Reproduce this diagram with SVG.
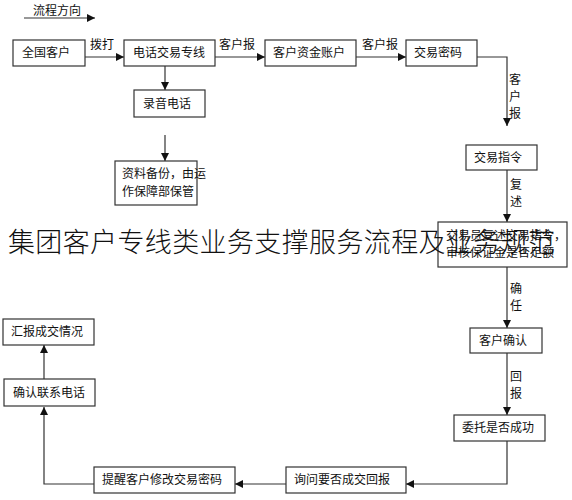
<svg xmlns="http://www.w3.org/2000/svg" width="572" height="500" viewBox="0 0 572 500">
<style>
.box{fill:#fff;stroke:#333;stroke-width:1.2}
.t{font-family:"Noto Sans CJK SC","Noto Sans",sans-serif;font-size:12px;fill:#111}
.ln{fill:none;stroke:#333;stroke-width:1.2}
.wm{font-family:"Noto Sans CJK SC",serif;font-size:27px;font-weight:300;fill:#111}
</style>
<defs>
<marker id="ah" viewBox="0 0 10 10" refX="10" refY="5" markerWidth="8" markerHeight="8" markerUnits="userSpaceOnUse" orient="auto">
<path d="M0,0 L10,5 L0,10 z" fill="#111"/>
</marker>
</defs>
<g id="legend">
<text class="t" x="33" y="15">流程方向</text>
<line class="ln" x1="24" y1="18" x2="95" y2="18" marker-end="url(#ah)"/>
</g>
<g id="connectors">
<line class="ln" x1="85" y1="57" x2="124" y2="57" marker-end="url(#ah)"/>
<text class="t" x="90" y="49">拨打</text>
<line class="ln" x1="215" y1="57" x2="265" y2="57" marker-end="url(#ah)"/>
<text class="t" x="219" y="49">客户报</text>
<line class="ln" x1="356" y1="57" x2="406" y2="57" marker-end="url(#ah)"/>
<text class="t" x="362" y="49">客户报</text>
<polyline class="ln" points="477,57 507,57 507,126" marker-end="url(#ah)"/>
<text class="t" x="509" y="84">客</text>
<text class="t" x="509" y="101">户</text>
<text class="t" x="509" y="118">报</text>
<line class="ln" x1="165" y1="66" x2="165" y2="90" marker-end="url(#ah)"/>
<line class="ln" x1="165" y1="135" x2="165" y2="161" marker-end="url(#ah)"/>
<line class="ln" x1="507" y1="170" x2="507" y2="222" marker-end="url(#ah)"/>
<text class="t" x="510" y="189">复</text>
<text class="t" x="510" y="206">述</text>
<line class="ln" x1="507" y1="267" x2="507" y2="328" marker-end="url(#ah)"/>
<text class="t" x="510" y="293">确</text>
<text class="t" x="510" y="310">任</text>
<line class="ln" x1="507" y1="353" x2="507" y2="415" marker-end="url(#ah)"/>
<text class="t" x="510" y="381">回</text>
<text class="t" x="510" y="398">报</text>
<polyline class="ln" points="507,441 507,484 406,484" marker-end="url(#ah)"/>
<line class="ln" x1="286" y1="484" x2="235" y2="484" marker-end="url(#ah)"/>
<polyline class="ln" points="94,484 44,484 44,407" marker-end="url(#ah)"/>
<line class="ln" x1="44" y1="379" x2="44" y2="345" marker-end="url(#ah)"/>
</g>
<g id="n1"><rect class="box" x="13" y="40" width="72" height="26"/><text class="t" x="22" y="57">全国客户</text></g>
<g id="n2"><rect class="box" x="124" y="40" width="91" height="26"/><text class="t" x="133" y="57">电话交易专线</text></g>
<g id="n3"><rect class="box" x="265" y="40" width="91" height="26"/><text class="t" x="273" y="57">客户资金账户</text></g>
<g id="n4"><rect class="box" x="406" y="40" width="71" height="26"/><text class="t" x="414" y="57">交易密码</text></g>
<g id="n5"><rect class="box" x="134" y="90" width="71" height="27"/><text class="t" x="143" y="108">录音电话</text></g>
<g id="n6"><rect class="box" x="115" y="161" width="82" height="44"/><text class="t" x="122" y="178">资料备份，由运</text><text class="t" x="122" y="196">作保障部保管</text></g>
<g id="n7"><rect class="box" x="466" y="145" width="71" height="25"/><text class="t" x="474" y="162">交易指令</text></g>
<g id="n8"><rect class="box" x="438" y="222" width="129" height="45"/><text class="t" x="446" y="240">交易员复述交易指令，</text><text class="t" x="446" y="257">审核保证金是否足额</text></g>
<g id="n9"><rect class="box" x="470" y="328" width="72" height="25"/><text class="t" x="479" y="345">客户确认</text></g>
<g id="n10"><rect class="box" x="454" y="415" width="91" height="26"/><text class="t" x="462" y="432">委托是否成功</text></g>
<g id="n11"><rect class="box" x="286" y="467" width="120" height="26"/><text class="t" x="294" y="484">询问要否成交回报</text></g>
<g id="n12"><rect class="box" x="94" y="467" width="141" height="26"/><text class="t" x="102" y="484">提醒客户修改交易密码</text></g>
<g id="n13"><rect class="box" x="4" y="379" width="91" height="27"/><text class="t" x="13" y="397">确认联系电话</text></g>
<g id="n14"><rect class="box" x="3" y="319" width="91" height="26"/><text class="t" x="11" y="336">汇报成交情况</text></g>
<g id="title"><text class="wm" x="8" y="252" textLength="547" lengthAdjust="spacing">集团客户专线类业务支撑服务流程及业务规范</text></g>
</svg>
